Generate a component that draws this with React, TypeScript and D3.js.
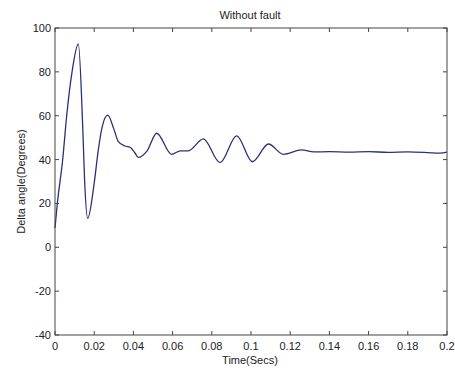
import React from "react";
import * as d3 from "d3";

const times = [0, 0.0012, 0.0039, 0.0060, 0.0087, 0.0119, 0.0142, 0.0151, 0.0167, 0.0200, 0.0221, 0.0241, 0.0269, 0.0300, 0.0323, 0.0357, 0.0383, 0.0408, 0.0425, 0.0470, 0.0519, 0.0595, 0.0640, 0.0680, 0.0757, 0.0842, 0.0927, 0.1007, 0.1089, 0.1165, 0.1258, 0.1320, 0.1400, 0.1500, 0.1600, 0.1700, 0.1800, 0.1900, 0.1965, 0.2];
const values = [8.8, 20, 39.8, 60.3, 80, 92.7, 53.5, 30.7, 13.2, 29.3, 44.4, 55, 60.3, 54, 48.2, 46.2, 45.6, 43, 41, 44, 52, 42.4, 44, 44, 49.4, 38.6, 50.8, 39, 47.1, 42.4, 44.4, 43.5, 43.6, 43.4, 43.6, 43.3, 43.5, 43.2, 42.9, 43.4];
const xTicks = [0, 0.02, 0.04, 0.06, 0.08, 0.1, 0.12, 0.14, 0.16, 0.18, 0.2];
const yTicks = [-40, -20, 0, 20, 40, 60, 80, 100];
const title = "Without fault";
const xLabel = "Time(Secs)";
const yLabel = "Delta angle(Degrees)";

export default function App() {
  const W = 455, H = 368;
  const L = 55, R = 447, T = 28, B = 335;
  const x = d3.scaleLinear().domain([0, 0.2]).range([L, R]);
  const y = d3.scaleLinear().domain([-40, 100]).range([B, T]);
  const pts: [number, number][] = times.map((t, i) => [t, values[i]]);
  const line = d3.line<[number, number]>().x(d => x(d[0])).y(d => y(d[1])).curve(d3.curveMonotoneX);
  const font = "'Liberation Sans', Arial, sans-serif";
  const axisColor = "#444";
  const tk = 4;
  return (
    <svg width={W} height={H} style={{ position: "absolute", left: 0, top: 0, background: "#fff" }} fontFamily={font}>
      <rect x={0} y={0} width={W} height={H} fill="#fff" />
      <text x={250} y={19} textAnchor="middle" fontSize={11} fill="#222">{title}</text>
      <path d={line(pts) || ""} fill="none" stroke="#2f2f78" strokeWidth={1.3} />
      <rect x={L} y={T} width={R - L} height={B - T} fill="none" stroke={axisColor} strokeWidth={1} />
      {xTicks.map(t => (
        <g key={"x" + t}>
          <line x1={x(t)} x2={x(t)} y1={B} y2={B - tk} stroke={axisColor} />
          <line x1={x(t)} x2={x(t)} y1={T} y2={T + tk} stroke={axisColor} />
          <text x={x(t)} y={350} textAnchor="middle" fontSize={11} fill="#222">{String(t)}</text>
        </g>
      ))}
      {yTicks.map(v => (
        <g key={"y" + v}>
          <line x1={L} x2={L + tk} y1={y(v)} y2={y(v)} stroke={axisColor} />
          <line x1={R} x2={R - tk} y1={y(v)} y2={y(v)} stroke={axisColor} />
          <text x={51} y={y(v) + 4} textAnchor="end" fontSize={11} fill="#222">{String(v)}</text>
        </g>
      ))}
      <text x={250} y={364} textAnchor="middle" fontSize={11} fill="#222">{xLabel}</text>
      <text transform={`translate(25,${(T + B) / 2}) rotate(-90)`} textAnchor="middle" fontSize={11} fill="#222">{yLabel}</text>
    </svg>
  );
}
